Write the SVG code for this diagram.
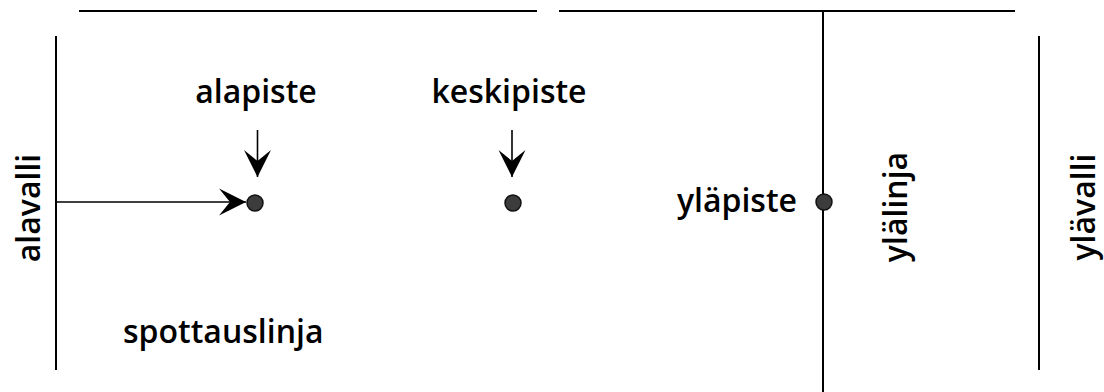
<svg xmlns="http://www.w3.org/2000/svg" width="1104" height="392" viewBox="0 0 1104 392">
<style>
.ln{stroke:#000;stroke-width:2;fill:none}
.cn{stroke:#000;stroke-width:1.6;fill:none}
.dot{fill:#3c3c3c;stroke:#111;stroke-width:1.5}
.lbl{font-family:"Open Sans","Noto Sans",sans-serif;font-size:32px;font-weight:600;fill:#000}
</style>
<defs>
<marker id="ah" markerUnits="userSpaceOnUse" markerWidth="30" markerHeight="30" viewBox="0 0 30 30" refX="27" refY="15" orient="auto">
<path d="M0,1.5 L27,15 L0,28.5 L11,15 Z" fill="#000"/>
</marker>
</defs>
<rect width="1104" height="392" fill="#fff"/>
<g id="lines">
<line class="ln" x1="79" y1="11" x2="537" y2="11"/>
<line class="ln" x1="559" y1="11" x2="1015" y2="11"/>
<line class="ln" x1="56" y1="36" x2="56" y2="370"/>
<line class="ln" x1="823" y1="11" x2="823" y2="392"/>
<line class="ln" x1="1039" y1="36" x2="1039" y2="370"/>
</g>
<g id="connectors">
<line class="cn" x1="56" y1="202" x2="246" y2="202" marker-end="url(#ah)"/>
<line class="cn" x1="257.5" y1="130" x2="257.5" y2="177" marker-end="url(#ah)"/>
<line class="cn" x1="512" y1="130" x2="512" y2="177" marker-end="url(#ah)"/>
</g>
<g id="alapiste">
<circle class="dot" cx="255" cy="203" r="8"/>
<text class="lbl" x="256" y="103" text-anchor="middle">alapiste</text>
</g>
<g id="keskipiste">
<circle class="dot" cx="513" cy="203" r="8"/>
<text class="lbl" x="509" y="103" text-anchor="middle">keskipiste</text>
</g>
<g id="ylapiste">
<circle class="dot" cx="824" cy="202" r="8"/>
<text class="lbl" x="797" y="212" text-anchor="end">yläpiste</text>
</g>
<g id="alavalli">
<text class="lbl" transform="translate(40,208) rotate(-90)" text-anchor="middle">alavalli</text>
</g>
<g id="ylalinja">
<text class="lbl" transform="translate(907,207) rotate(-90)" text-anchor="middle">ylälinja</text>
</g>
<g id="ylavalli">
<text class="lbl" transform="translate(1095,207) rotate(-90)" text-anchor="middle">ylävalli</text>
</g>
<g id="spottauslinja">
<text class="lbl" x="123" y="343">spottauslinja</text>
</g>
</svg>
